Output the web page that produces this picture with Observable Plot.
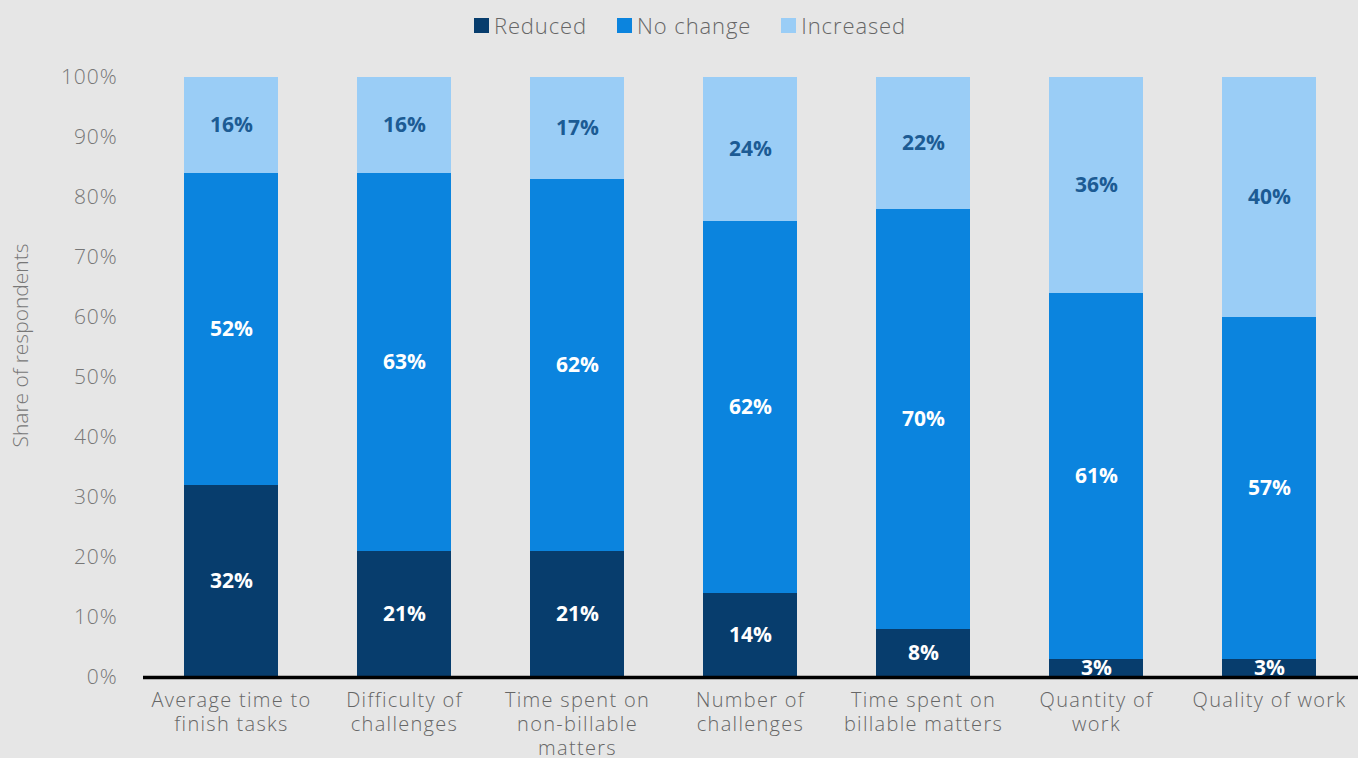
<!DOCTYPE html>
<html>
<head>
<meta charset="utf-8">
<script src="https://cdn.jsdelivr.net/npm/d3@7"></script>
<script src="https://cdn.jsdelivr.net/npm/@observablehq/plot@0.6"></script>
<style>
  html, body { margin: 0; padding: 0; background: #e6e6e6; }
  body { width: 1358px; height: 758px; overflow: hidden; font-family: "Open Sans", sans-serif; }
  #legend { height: 50px; display: flex; justify-content: center; align-items: center; gap: 30px; padding-left: 22px; box-sizing: border-box; font-size: 22px; color: #666; font-weight: 300; letter-spacing: 0.9px; }
  #legend .item { display: flex; align-items: center; gap: 5px; }
  #legend .sw { width: 15px; height: 15px; display: inline-block; }
  svg { display: block; }
  svg g[aria-label="x-axis tick label"] text { letter-spacing: 1.3px; }
  svg g[aria-label="y-axis tick label"] text { letter-spacing: 0.9px; }
</style>
</head>
<body>
<div id="legend"></div>
<div id="chart"></div>
<script>
const categories = [
  "Average time to\nfinish tasks",
  "Difficulty of\nchallenges",
  "Time spent on\nnon-billable\nmatters",
  "Number of\nchallenges",
  "Time spent on\nbillable matters",
  "Quantity of\nwork",
  "Quality of work"
];
const seriesNames = ["Reduced", "No change", "Increased"];
const reduced   = [32, 21, 21, 14, 8, 3, 3];
const noChange  = [52, 63, 62, 62, 70, 61, 57];
const increased = [16, 16, 17, 24, 22, 36, 40];
const yTicks = [0, 10, 20, 30, 40, 50, 60, 70, 80, 90, 100];
const colors = ["#073d6d", "#0b84de", "#9acdf6"];
const labelColors = ["#ffffff", "#ffffff", "#1c5b94"];

const seriesValues = [reduced, noChange, increased];
const data = [];
seriesNames.forEach((s, si) => {
  categories.forEach((c, ci) => {
    data.push({category: c, status: s, value: seriesValues[si][ci]});
  });
});

// legend
const leg = document.getElementById("legend");
seriesNames.forEach((s, i) => {
  const it = document.createElement("div");
  it.className = "item";
  it.innerHTML = `<span class="sw" style="background:${colors[i]}"></span><span>${s}</span>`;
  leg.appendChild(it);
});

const stackOpts = {x: "category", y: "value", z: "status", order: seriesNames};

const chart = Plot.plot({
  width: 1358,
  height: 708,
  marginLeft: 143,
  marginRight: 0,
  marginTop: 27,
  marginBottom: 81,
  style: {background: "#e6e6e6", fontFamily: "Open Sans, sans-serif"},
  x: {domain: categories, paddingInner: 0.454, paddingOuter: 0.224, align: 0.5},
  y: {domain: [0, 100]},
  color: {domain: seriesNames, range: colors},
  marks: [
    Plot.barY(data, Plot.stackY({...stackOpts, fill: "status"})),
    Plot.text(data, Plot.stackY({...stackOpts, text: d => d.status === "Increased" ? null : d.value + "%", fill: labelColors[0], fontSize: 21, fontWeight: "bold"})),
    Plot.text(data, Plot.stackY({...stackOpts, text: d => d.status === "Increased" ? d.value + "%" : null, fill: labelColors[2], fontSize: 21, fontWeight: "bold"})),
    Plot.ruleY([0], {stroke: "#000", strokeWidth: 3.5}),
    Plot.axisY({ticks: yTicks, tickFormat: d => d + "%", tickSize: 0, tickPadding: 26, fontSize: 21, fill: "#777", fontWeight: 300, label: null}),
    Plot.axisX({tickSize: 0, tickPadding: 12, fontSize: 20, lineHeight: 1.2, fill: "#666", fontWeight: 300, label: null}),
    Plot.text(["Share of respondents"], {frameAnchor: "left", textAnchor: "middle", rotate: -90, dx: -122, dy: -32, fontSize: 21, fill: "#777", fontWeight: 300})
  ]
});
document.getElementById("chart").appendChild(chart);
</script>
</body>
</html>
